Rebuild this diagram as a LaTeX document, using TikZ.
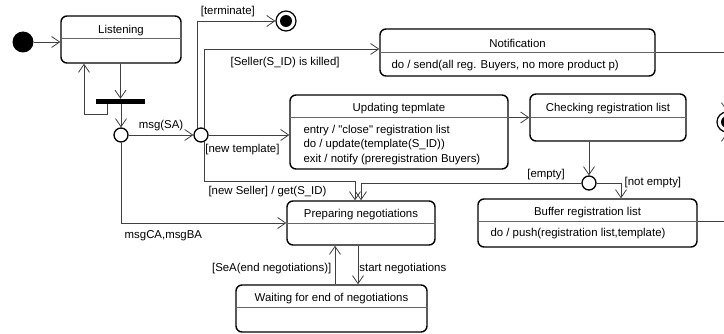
\documentclass[tikz,border=0pt]{standalone}
\usepackage{fontspec}
\setmainfont{Liberation Sans}
\usetikzlibrary{positioning, arrows.meta}

\begin{document}
\begin{tikzpicture}[x=1pt, y=-1pt,
		font=\fontsize{11.4}{14.5}\selectfont,
		state/.style={draw, line width=1.4pt, rounded corners=6pt, inner sep=0pt},
		divider/.style={draw=black!60, line width=0.8pt},
		trans/.style={draw=black!75, line width=0.8pt, -{Straight Barb[length=8pt,width=11pt]}},
		choice/.style={circle, draw, line width=1.3pt, fill=white, minimum size=14pt, inner sep=0pt},
		endstate/.style={circle, draw, line width=1.2pt, minimum size=20pt, inner sep=0pt,
			path picture={\fill (path picture bounding box.center) circle (6pt);}}]
		
		\useasboundingbox (0,0) rectangle (724,334);
		\clip (0,0) rectangle (724,334);
		
		%Stati
		\node (listening) at (121,39.5) [state, minimum width=120pt, minimum height=47pt] {};
		\node (notification) at (517.5,52.5) [state, minimum width=275pt, minimum height=47pt] {};
		\node (updating) at (399,132) [state, minimum width=218pt, minimum height=74pt] {};
		\node (checking) at (608,117.5) [state, minimum width=156pt, minimum height=47pt] {};
		\node (preparing) at (361,223) [state, minimum width=148pt, minimum height=44pt] {};
		\node (buffer) at (587.5,223) [state, minimum width=219pt, minimum height=48pt] {};
		\node (waiting) at (331.5,308.5) [state, minimum width=191pt, minimum height=47pt] {};
		
		%Titoli e azioni
		\node (listeningTitle) at (121,31) {Listening};
		\node (notificationTitle) at (517.5,43) {Notification};
		\node (notificationDo) at (388,65.5) [anchor=west] {do / send(all reg. Buyers, no more product p)};
		\node (updatingTitle) at (399,109) {Updating tepmlate};
		\node (updatingDo) at (300,145) [anchor=west, align=left] {entry / \textquotedbl close\textquotedbl{} registration list\\
		do / update(template(S\_ID))\\exit / notify (preregistration Buyers)};
		\node (checkingTitle) at (608,109) {Checking registration list};
		\node (preparingTitle) at (361,214.5) {Preparing negotiations};
		\node (bufferTitle) at (587.5,213) {Buffer registration list};
		\node (bufferDo) at (487,234) [anchor=west] {do / push(registration list,template)};
		\node (waitingTitle) at (331.5,298.5) {Waiting for end of negotiations};
		
		\draw[divider] (listening.west |- 0,38) -- (listening.east |- 0,38);
		\draw[divider] (notification.west |- 0,52) -- (notification.east |- 0,52);
		\draw[divider] (updating.west |- 0,117) -- (updating.east |- 0,117);
		\draw[divider] (checking.west |- 0,117) -- (checking.east |- 0,117);
		\draw[divider] (preparing.west |- 0,223) -- (preparing.east |- 0,223);
		\draw[divider] (buffer.west |- 0,221) -- (buffer.east |- 0,221);
		\draw[divider] (waiting.west |- 0,307) -- (waiting.east |- 0,307);
		
		%Pseudostati
		\node (init) at (23,42) [circle, fill, minimum size=21pt, inner sep=0pt] {};
		\node (fork) at (120.5,101.5) [fill, minimum width=49pt, minimum height=5pt, inner sep=0pt] {};
		\node (c1) at (121,135) [choice] {};
		\node (c2) at (201,135) [choice] {};
		\node (c3) at (589,183) [choice] {};
		\node (terminated) at (286,21) [endstate] {};
		\node (finished) at (727,122) [endstate] {};
		\coordinate (sellerbend) at (355,181);
		
		%Transizioni
		\draw[trans] (init) -- (listening.west |- init);
		\draw[trans] (listening.south -| fork) -- (fork.north);
		\draw[trans] ([xshift=-13.5pt]fork.south) -- ++(0,10) -| ([xshift=-37pt]listening.south);
		\draw[trans] (fork.south -| c1) -- (c1);
		\draw[trans] (c1) -- node[above]{msg(SA)} (c2);
		\draw[trans] (c2.120) |- node[pos=0.5, anchor=south west]{[terminate]} (terminated);
		\draw[trans] (c2.60) |- node[pos=0.73, below=5pt]{[Seller(S\_ID) is killed]} ([yshift=3.5pt]notification.west);
		\draw[trans] (c2) -- node[pos=0, anchor=north west, xshift=-7pt, yshift=-6pt]{[new template]} (updating.west |- c2);
		\draw[trans] (c2.-60) |- node[pos=0.5, anchor=north west, yshift=-2pt]{[new Seller] / get(S\_ID)} (sellerbend) -- (sellerbend |- preparing.north);
		\draw[trans] (c1) |- node[pos=0.5, anchor=north west, yshift=-4pt]{msgCA,msgBA} (preparing.west);
		\draw[trans] (updating.east |- checking) -- (checking.west);
		\draw[trans] (checking.south -| c3) -- (c3);
		\draw[trans] (c3) -| node[pos=0.08, above, yshift=-1pt]{[empty]} (preparing.north);
		\draw[trans] (c3) -| node[pos=0.5, anchor=west]{[not empty]} ([xshift=33.5pt]buffer.north);
		\draw[trans] ([xshift=-3pt]preparing.south) -- node[pos=0.6, anchor=west, inner sep=1pt]{start negotiations} ([xshift=26.5pt]waiting.north);
		\draw[trans] ([xshift=3.5pt]waiting.north) -- node[pos=0.4, left]{[SeA(end negotiations)]} ([xshift=-26pt]preparing.south);
		\draw[trans] (notification.east) -| (finished.north);
		\draw[trans] ([yshift=2pt]buffer.east) -| (finished.south);
		
\end{tikzpicture}
\end{document}
